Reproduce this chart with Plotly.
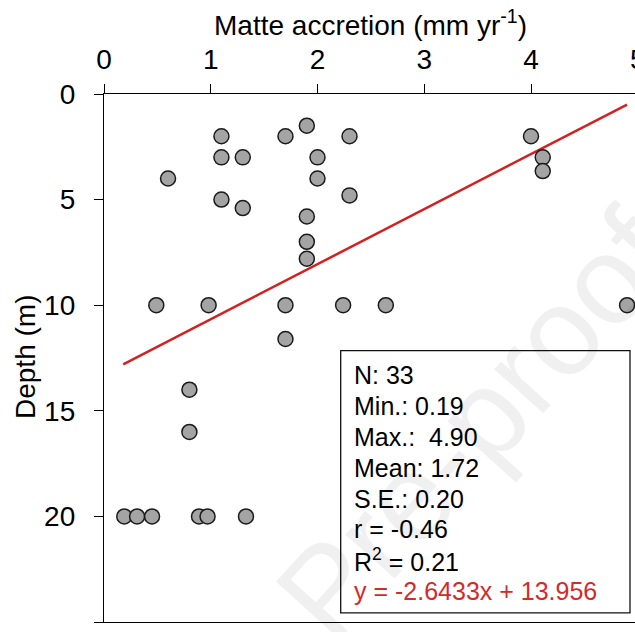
import plotly.graph_objects as go

# ---- data ----
accretion = [1.10, 1.70, 1.90, 2.30, 1.10, 1.30, 2.00, 0.60, 2.00, 1.10, 1.30,
             2.30, 1.90, 1.90, 1.90, 0.49, 0.98, 1.70, 2.24, 1.70, 4.00, 4.11,
             4.11, 2.64, 4.90, 0.80, 0.80, 0.19, 0.31, 0.45, 0.89, 0.97, 1.33]
depth = [2.0, 2.0, 1.5, 2.0, 3.0, 3.0, 3.0, 4.0, 4.0, 5.0, 5.4,
         4.8, 5.8, 7.0, 7.8, 10.0, 10.0, 10.0, 10.0, 11.6, 2.0, 3.0,
         3.65, 10.0, 10.0, 14.0, 16.0, 20.0, 20.0, 20.0, 20.0, 20.0, 20.0]

fit_x = [0.18, 4.90]
fit_y = [12.8, 0.5]

x_ticks = [0, 1, 2, 3, 4]
y_ticks = [0, 5, 10, 15, 20, 25]

stats_lines = ["N: 33", "Min.: 0.19", "Max.:\u00a0 4.90", "Mean: 1.72", "S.E.: 0.20",
               "r = -0.46", "R<sup>2</sup> = 0.21", "y = -2.6433x + 13.956"]
stats_colors = ["black"] * 7 + ["#d42a2a"]

x_title = "Matte accretion (mm yr<sup>-1</sup>)"
y_title = "Depth (m)"

# ---- layout geometry (pixels) ----
W, H = 635, 632
L, T = 104, 93.5
B = 632 - 622.5
PW = W - L
PH = H - T - B
px_per_unit = 106.75
FONT = "Arial, Liberation Sans, sans-serif"
AX_FONT = 28


def px2paper_x(px):
    return (px - L) / PW


def py2paper_y(py):
    return (H - B - py) / PH


fig = go.Figure()

fig.add_trace(go.Scatter(
    x=fit_x, y=fit_y, mode="lines",
    line=dict(color="#d42020", width=2.5), showlegend=False, hoverinfo="skip"))

fig.add_trace(go.Scatter(
    x=accretion, y=depth, mode="markers",
    marker=dict(size=15, color="#a4a4a4", line=dict(color="#1a1a1a", width=1.5)),
    showlegend=False))

annotations = []
# watermark
annotations.append(dict(
    text="Pre-proof", xref="paper", yref="paper",
    x=px2paper_x(475), y=py2paper_y(425), xanchor="center", yanchor="middle",
    showarrow=False, textangle=-48,
    font=dict(family=FONT, size=125, color="rgba(0,0,0,0.06)")))

# axis titles
annotations.append(dict(
    text=x_title, xref="paper", yref="paper", x=px2paper_x(370.5), y=1,
    xanchor="center", yanchor="middle", yshift=T - 22, showarrow=False,
    font=dict(family=FONT, size=AX_FONT, color="black")))
annotations.append(dict(
    text=y_title, xref="paper", yref="paper", x=0, y=py2paper_y(357),
    xanchor="center", yanchor="middle", xshift=-(L - 25), textangle=-90,
    showarrow=False, font=dict(family=FONT, size=AX_FONT, color="black")))
# partially visible "5" tick label at the right edge
annotations.append(dict(
    text="5", xref="paper", yref="paper", x=px2paper_x(L + 5 * px_per_unit), y=1,
    xanchor="center", yanchor="middle", yshift=T - 59, showarrow=False,
    font=dict(family=FONT, size=AX_FONT, color="black")))

# statistics box text
first_y, step = 375.0, 30.95
for i, (txt, col) in enumerate(zip(stats_lines, stats_colors)):
    annotations.append(dict(
        text=txt, xref="paper", yref="paper", x=px2paper_x(351.5),
        y=py2paper_y(first_y + i * step), xanchor="left", yanchor="middle",
        showarrow=False, font=dict(family=FONT, size=25, color=col)))

shapes = [dict(type="rect", xref="paper", yref="paper",
               x0=px2paper_x(340.7), x1=px2paper_x(630), y0=py2paper_y(613.3),
               y1=py2paper_y(350.7), line=dict(color="#111111", width=1.3))]

fig.update_layout(
    width=W, height=H,
    margin=dict(l=L, r=0, t=T, b=B, pad=0),
    paper_bgcolor="white", plot_bgcolor="white",
    font=dict(family=FONT, size=AX_FONT, color="black"),
    annotations=annotations, shapes=shapes,
    xaxis=dict(side="top", range=[0, PW / px_per_unit], tickvals=x_ticks,
               ticks="outside", ticklen=9, tickwidth=1.2, tickcolor="black",
               showline=True, linecolor="black", linewidth=1.3, mirror=True,
               showgrid=False, zeroline=False, ticklabelstandoff=4,
               tickfont=dict(family=FONT, size=AX_FONT, color="black")),
    yaxis=dict(range=[25, 0], tickvals=y_ticks,
               ticks="outside", ticklen=9, tickwidth=1.2, tickcolor="black",
               showline=True, linecolor="black", linewidth=1.3,
               showgrid=False, zeroline=False, ticklabelstandoff=13,
               tickfont=dict(family=FONT, size=AX_FONT, color="black")),
)

fig.write_html("out.html")
